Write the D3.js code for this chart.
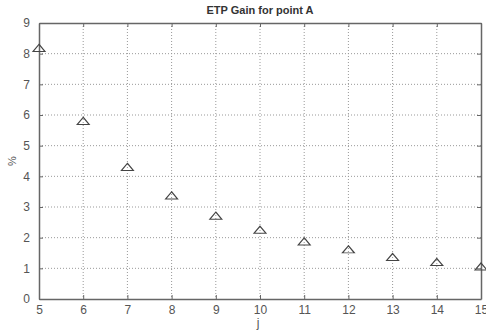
<!DOCTYPE html>
<html>
<head>
<meta charset="utf-8">
<script src="https://cdn.jsdelivr.net/npm/d3@7"></script>
<style>
  body { margin: 0; background: #fff; }
  text { font-family: Arial, "Liberation Sans", sans-serif; }
</style>
</head>
<body>
<div id="viz"></div>
<script>
const jValues = [5, 6, 7, 8, 9, 10, 11, 12, 13, 14, 15];
const gainValues = [8.15, 5.77, 4.27, 3.34, 2.68, 2.22, 1.84, 1.58, 1.33, 1.17, 1.02];
const xTicks = [5, 6, 7, 8, 9, 10, 11, 12, 13, 14, 15];
const yTicks = [0, 1, 2, 3, 4, 5, 6, 7, 8, 9];

const W = 486, H = 331;
const margin = {top: 23, right: 5, bottom: 32, left: 39},
    width = W - margin.left - margin.right,
    height = H - margin.top - margin.bottom;

const svg = d3.select("#viz")
  .append("svg")
  .attr("width", W)
  .attr("height", H);

const g = svg.append("g")
  .attr("transform", `translate(${margin.left}, ${margin.top})`);

const x = d3.scaleLinear().domain([5, 15]).range([0, width]);
const y = d3.scaleLinear().domain([0, 9]).range([height, 0]);

// grid
g.append("g")
  .selectAll("line")
  .data(xTicks.slice(1, -1))
  .join("line")
    .attr("x1", d => x(d)).attr("x2", d => x(d))
    .attr("y1", 0).attr("y2", height)
    .attr("stroke", "#999").attr("stroke-dasharray", "1,2");
g.append("g")
  .selectAll("line")
  .data(yTicks.slice(1, -1))
  .join("line")
    .attr("y1", d => y(d)).attr("y2", d => y(d))
    .attr("x1", 0).attr("x2", width)
    .attr("stroke", "#999").attr("stroke-dasharray", "1,2");

// axes, ticks inward like matlab
const axisColor = "#666";
const xAx = g.append("g")
  .attr("transform", `translate(0,${height})`)
  .call(d3.axisBottom(x).tickValues(xTicks).tickSize(-4).tickPadding(6).tickSizeOuter(0));
const xTop = g.append("g")
  .call(d3.axisTop(x).tickValues(xTicks).tickSize(-4).tickFormat("").tickSizeOuter(0));
const yAx = g.append("g")
  .call(d3.axisLeft(y).tickValues(yTicks).tickSize(-4).tickPadding(9).tickSizeOuter(0));
const yRight = g.append("g")
  .attr("transform", `translate(${width},0)`)
  .call(d3.axisRight(y).tickValues(yTicks).tickSize(-4).tickFormat("").tickSizeOuter(0));

[xAx, xTop, yAx, yRight].forEach(a => {
  a.selectAll("path").attr("stroke", axisColor).attr("stroke-width", 1.5);
  a.selectAll("line").attr("stroke", axisColor);
  a.selectAll("text").attr("fill", "#555").style("font-size", "12px");
});

// markers
const tri = d3.symbol().type(d3.symbolTriangle).size(40);
g.append("g")
  .selectAll("path")
  .data(jValues.map((j, i) => ({j, v: gainValues[i]})))
  .join("path")
    .attr("d", tri)
    .attr("transform", d => `translate(${x(d.j)},${y(d.v)}) scale(1.25,0.85)`)
    .attr("fill", "none")
    .attr("stroke", "#444")
    .attr("stroke-width", 1.1);

// title and labels
svg.append("text")
  .attr("x", margin.left + width / 2).attr("y", 14)
  .attr("text-anchor", "middle")
  .style("font-size", "11px").style("font-weight", "bold")
  .attr("fill", "#333")
  .text("ETP Gain for point A");

svg.append("text")
  .attr("x", margin.left + width / 2 - 2).attr("y", 327)
  .attr("text-anchor", "middle")
  .style("font-size", "12px").attr("fill", "#555")
  .text("j");

svg.append("text")
  .attr("transform", `translate(16,${margin.top + height / 2}) rotate(-90)`)
  .attr("text-anchor", "middle")
  .style("font-size", "11px").attr("fill", "#555")
  .text("%");
</script>
</body>
</html>
